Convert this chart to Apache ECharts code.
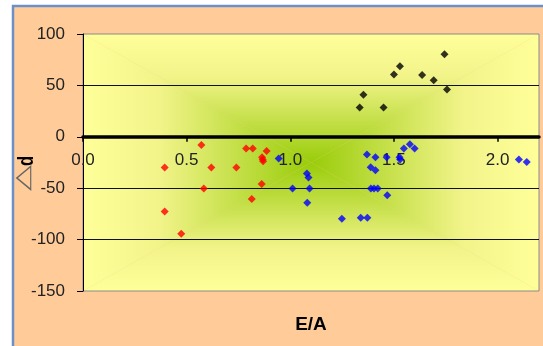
<!DOCTYPE html>
<html>
<head>
<meta charset="utf-8">
<script src="https://cdn.jsdelivr.net/npm/echarts@6/dist/echarts.min.js"></script>
<style>
html,body{margin:0;padding:0;background:#fff;}
#chart{width:543px;height:346px;}
</style>
</head>
<body>
<div id="chart"></div>
<script>
// ---- data (E/A, Δd) ----
const redX   = [0.571,0.787,0.819,0.886,0.864,0.867,0.869,0.394,0.619,0.740,0.583,0.862,0.814,0.394,0.474];
const redY   = [-8.0,-11.5,-11.5,-13.8,-19.9,-22.0,-23.8,-29.9,-29.9,-29.9,-50.3,-45.8,-60.4,-72.6,-94.4];
const blueX  = [0.944,1.011,1.080,1.088,1.093,1.082,1.249,1.340,1.372,1.370,1.411,1.388,1.411,1.389,1.404,1.422,1.468,1.465,1.527,1.530,1.548,1.577,1.600,2.103,2.141];
const blueY  = [-21.2,-50.3,-35.7,-39.6,-50.3,-64.2,-79.8,-78.8,-78.8,-17.3,-19.9,-29.6,-32.5,-50.3,-50.3,-50.3,-56.8,-19.9,-19.9,-22.1,-11.5,-7.3,-11.5,-22.1,-24.5];
const blackX = [1.744,1.529,1.500,1.636,1.692,1.756,1.353,1.335,1.450];
const blackY = [80.4,68.7,60.7,60.0,55.1,46.1,41.0,28.6,28.6];
const xTicks = [0.0,0.5,1.0,1.5,2.0];
const yTicks = [-150,-100,-50,0,50,100];
const xName = 'E/A';
const yNameTri = '△';
const yNameD = 'd';

function pairs(xs, ys){ return xs.map((x,i)=>[x, ys[i]]); }

// ---- layout ----
const W = 543, H = 346;
const G = {left:83, top:34, right:4, bottom:55};
const L = G.left, T = G.top, R = W - G.right, B = H - G.bottom;
const cx = (L + R) / 2, cy = (T + B) / 2;
const Y_MIN = -150, Y_MAX = 100;
const zeroOffset = -(B - T) * (0 - Y_MIN) / (Y_MAX - Y_MIN);
const EDGE = '#FFFF99', MID = '#F2F48A', CENTER = '#99CC0A';
function grad(x, y, x2, y2){
  return {type:'linear', x:x, y:y, x2:x2, y2:y2, colorStops:[
    {offset:0, color:EDGE},{offset:0.33, color:MID},{offset:1, color:CENTER}]};
}

const chart = echarts.init(document.getElementById('chart'), null, {renderer:'canvas'});
const labelFont = {fontFamily:'Liberation Sans, Arial, sans-serif', fontSize:17, color:'#222'};

chart.setOption({
  animation:false,
  backgroundColor:'#ffffff',
  graphic:[
    {type:'rect', z:-20, shape:{x:13, y:6, width:W+20, height:H+20},
     style:{fill:'#FFCC99', stroke:'#6B8FC7', lineWidth:2.5}},
    {type:'polygon', z:-15, shape:{points:[[L,T],[R,T],[cx,cy]]}, style:{fill:grad(0,0,0,1)}},
    {type:'polygon', z:-15, shape:{points:[[L,B],[R,B],[cx,cy]]}, style:{fill:grad(0,1,0,0)}},
    {type:'polygon', z:-15, shape:{points:[[L,T],[L,B],[cx,cy]]}, style:{fill:grad(0,0,1,0)}},
    {type:'polygon', z:-15, shape:{points:[[R,T],[R,B],[cx,cy]]}, style:{fill:grad(1,0,0,0)}},
    {type:'text', z:50, x:311, y:325,
     style:{text:xName, fontFamily:'Liberation Sans, Arial, sans-serif', fontWeight:'bold', fontSize:19,
            fill:'#000', align:'center', verticalAlign:'middle'}},
    {type:'text', z:50, x:24, y:178, rotation:Math.PI/2, scaleY:0.6,
     style:{text:yNameTri, fontFamily:'DejaVu Sans', fontSize:34, fill:'#666',
            align:'center', verticalAlign:'middle'}},
    {type:'text', z:50, x:27, y:161, rotation:Math.PI/2, scaleX:0.75,
     style:{text:yNameD, fontFamily:'Liberation Sans, Arial, sans-serif', fontWeight:'bold', fontSize:22, fill:'#000',
            align:'center', verticalAlign:'middle'}}
  ],
  grid:{left:G.left, top:G.top, right:G.right, bottom:G.bottom, show:true,
        borderColor:'#8a8a8a', borderWidth:1, backgroundColor:'transparent', containLabel:false},
  xAxis:{
    type:'value', min:0, max:2.2, interval:0.5, position:'bottom', offset:zeroOffset,
    axisLine:{show:true, onZero:false, lineStyle:{color:'#000', width:3.5}},
    axisTick:{show:true, length:5, customValues:xTicks, lineStyle:{color:'#000', width:1.5}},
    axisLabel:Object.assign({margin:15, customValues:xTicks, formatter:v=>Number(v).toFixed(1)}, labelFont),
    splitLine:{show:false}
  },
  yAxis:{
    type:'value', min:Y_MIN, max:Y_MAX, interval:50,
    axisLine:{show:true, onZero:false, lineStyle:{color:'#000', width:1}},
    axisTick:{show:true, length:6, customValues:yTicks, lineStyle:{color:'#000'}},
    axisLabel:Object.assign({margin:18, customValues:yTicks}, labelFont),
    splitLine:{show:true, showMinLine:false, showMaxLine:false, lineStyle:{color:'#111', width:1}}
  },
  series:[
    {type:'scatter', symbol:'diamond', symbolSize:8, itemStyle:{color:'#FF0000'}, data:pairs(redX, redY), z:5},
    {type:'scatter', symbol:'diamond', symbolSize:8, itemStyle:{color:'#0000FF'}, data:pairs(blueX, blueY), z:5},
    {type:'scatter', symbol:'diamond', symbolSize:8, itemStyle:{color:'#000000'}, data:pairs(blackX, blackY), z:5}
  ]
});
</script>
</body>
</html>
